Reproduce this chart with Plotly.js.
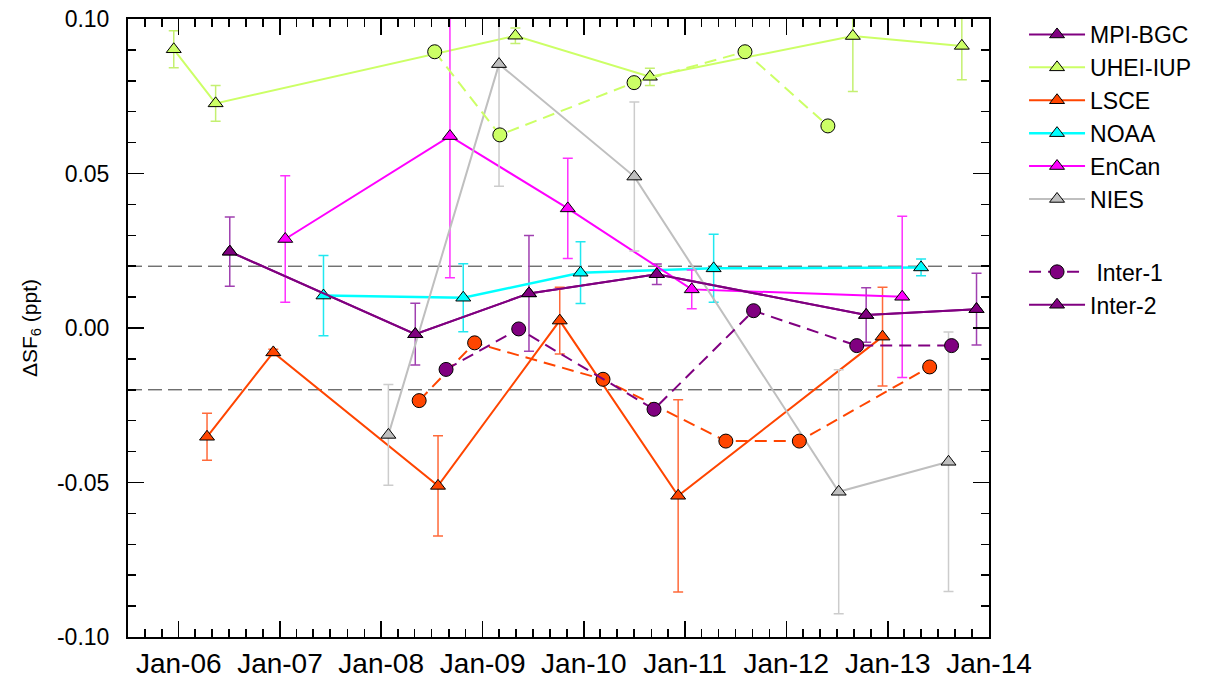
<!DOCTYPE html>
<html>
<head>
<meta charset="utf-8">
<script src="https://cdn.plot.ly/plotly-3.0.1.min.js"></script>
<style>html,body{margin:0;padding:0;background:#fff;}#chart{width:1212px;height:679px;}</style>
</head>
<body>
<div id="chart"></div>
<script>
// MPI-BGC (also Inter-2)
const mpiDates = ['2006-07-04','2008-05-03','2009-06-17','2010-09-21','2012-10-15','2013-11-17'];
const mpiVals  = [0.0247, -0.0020, 0.0112, 0.0174, 0.0042, 0.0061];
const mpiErr   = [0.0112, 0.0100, 0.0187, 0.0033, 0.0088, 0.0116];

// UHEI-IUP
const uheiDates = ['2005-12-14','2006-05-14','2009-04-29','2010-08-27','2012-08-28','2013-09-25'];
const uheiVals  = [0.0902, 0.0727, 0.0946, 0.0813, 0.0945, 0.0913];
const uheiErr   = [0.0060, 0.0058, 0.0025, 0.0028, 0.0180, 0.0110];

// UHEI-IUP Inter-1
const uheiI1Dates = ['2008-07-12','2009-03-04','2010-07-01','2011-08-05','2012-05-30'];
const uheiI1Vals  = [0.0894, 0.0625, 0.0794, 0.0894, 0.0654];

// LSCE
const lsceDates = ['2006-04-13','2006-12-08','2008-07-24','2009-10-06','2010-12-07','2012-12-13'];
const lsceVals  = [-0.0352, -0.0079, -0.0511, 0.0024, -0.0543, -0.0028];
const lsceErr   = [0.0076, 0.0010, 0.0162, 0.0108, 0.0311, 0.0160];

// LSCE Inter-1
const lsceI1Dates = ['2008-05-17','2008-12-03','2010-03-11','2011-05-28','2012-02-17','2013-06-01'];
const lsceI1Vals  = [-0.0235, -0.0048, -0.0166, -0.0366, -0.0366, -0.0126];

// MPI-BGC Inter-1
const mpiI1Dates = ['2008-08-22','2009-05-11','2010-09-11','2011-09-05','2012-09-11','2013-08-19'];
const mpiI1Vals  = [-0.0134, -0.0003, -0.0263, 0.0056, -0.0057, -0.0057];

// NOAA
const noaaDates = ['2007-06-07','2008-10-23','2009-12-20','2011-04-14','2013-05-01'];
const noaaVals  = [0.0105, 0.0098, 0.0179, 0.0193, 0.0196];
const noaaErr   = [0.0130, 0.0110, 0.0100, 0.0110, 0.0027];

// EnCan
const encanDates = ['2007-01-20','2008-09-05','2009-11-04','2011-01-25','2013-02-22'];
const encanVals  = [0.0288, 0.0621, 0.0387, 0.0125, 0.0101];
const encanErr   = [0.0205, 0.0458, 0.0162, 0.0063, 0.0261];

// NIES
const niesDates = ['2008-01-27','2009-03-01','2010-07-02','2012-07-08','2013-08-08'];
const niesVals  = [-0.0346, 0.0854, 0.0490, -0.0530, -0.0433];
const niesErr   = [0.0163, 0.0395, 0.0241, 0.0395, 0.0420];

const tickVals = ['2006-01-01','2007-01-01','2008-01-01','2009-01-01','2010-01-01','2011-01-01','2012-01-01','2013-01-01','2014-01-01'];
const tickText = ['Jan-06','Jan-07','Jan-08','Jan-09','Jan-10','Jan-11','Jan-12','Jan-13','Jan-14'];
const yTicks = [-0.10, -0.05, 0.00, 0.05, 0.10];
const yTickText = ['-0.10', '-0.05', '0.00', '0.05', '0.10'];
const limitBand = [-0.02, 0.02];

const C = {
  mpi: '#800080', mpiE: '#a040b0',
  uhei: '#ccff66', uheiE: '#c4f070',
  lsce: '#ff4500', lsceE: '#ff6a3a',
  noaa: '#00ffff', noaaE: '#20e8f0',
  encan: '#ff00ff', encanE: '#ff30ff',
  nies: '#bfbfbf', niesE: '#cccccc'
};

function tri(name, x, y, err, col, ecol, group, lw) {
  const t = {
    type: 'scatter', mode: 'lines+markers', name: name, x: x, y: y,
    legendgroup: group,
    line: {color: col, width: lw || 2},
    marker: {symbol: 'triangle-up', size: 13, color: col, line: {color: '#000', width: 1}}
  };
  if (err) t.error_y = {type: 'data', array: err, visible: true, color: ecol, thickness: 1.5, width: 5};
  return t;
}
function circ(name, x, y, col, group, show) {
  return {
    type: 'scatter', mode: 'lines+markers', name: name, x: x, y: y,
    legendgroup: group, showlegend: show,
    line: {color: col, width: 2, dash: '12px,7px'},
    marker: {symbol: 'circle', size: 14, color: col, line: {color: '#000', width: 1}}
  };
}

const traces = [
  tri('MPI-BGC', mpiDates, mpiVals, mpiErr, C.mpi, C.mpiE, 'a'),
  tri('UHEI-IUP', uheiDates, uheiVals, uheiErr, C.uhei, C.uheiE, 'a'),
  tri('LSCE', lsceDates, lsceVals, lsceErr, C.lsce, C.lsceE, 'a'),
  tri('NOAA', noaaDates, noaaVals, noaaErr, C.noaa, C.noaaE, 'a', 2.5),
  tri('EnCan', encanDates, encanVals, encanErr, C.encan, C.encanE, 'a'),
  tri('NIES', niesDates, niesVals, niesErr, C.nies, C.niesE, 'a'),
  circ('UHEI-IUP Inter-1', uheiI1Dates, uheiI1Vals, C.uhei, 'b', false),
  circ('LSCE Inter-1', lsceI1Dates, lsceI1Vals, C.lsce, 'b', false),
  circ(' Inter-1', mpiI1Dates, mpiI1Vals, C.mpi, 'b', true),
  tri('Inter-2', mpiDates, mpiVals, null, C.mpi, C.mpiE, 'b')
];

const shapes = limitBand.map(v => ({
  type: 'line', xref: 'paper', x0: 0, x1: 1, yref: 'y', y0: v, y1: v,
  line: {color: '#333', width: 1, dash: '14px,6px'}, layer: 'below'
}));

const fam = 'Liberation Sans, Arial, sans-serif';

const layout = {
  width: 1212, height: 679,
  margin: {l: 128, r: 223, t: 19, b: 42},
  paper_bgcolor: '#fff', plot_bgcolor: '#fff',
  font: {family: fam, size: 18, color: '#000'},
  showlegend: true,
  legend: {x: 1.0407, xanchor: 'left', y: 1.0097, yanchor: 'top', traceorder: 'grouped',
           tracegroupgap: 40, font: {family: fam, size: 23, color: '#000'},
           bgcolor: 'rgba(0,0,0,0)', itemwidth: 56},
  xaxis: {
    type: 'date', range: ['2005-07-02', '2014-01-01'],
    tickmode: 'array', tickvals: tickVals, ticktext: tickText,
    ticks: 'inside', ticklen: 16, tickwidth: 1.5, tickcolor: '#000',
    minor: {dtick: 'M2', tick0: '2006-01-01', ticks: 'inside', ticklen: 8, tickwidth: 1.5, tickcolor: '#000', showgrid: false},
    showline: true, linecolor: '#000', linewidth: 2, mirror: 'ticks',
    showgrid: false, zeroline: false, tickfont: {family: fam, size: 28, color: '#000'}, ticklabelstandoff: 0
  },
  yaxis: {
    range: [-0.10, 0.10], tickmode: 'array', tickvals: yTicks, ticktext: yTickText,
    ticks: 'inside', ticklen: 16, tickwidth: 1.5, tickcolor: '#000',
    minor: {dtick: 0.01, tick0: 0, ticks: 'inside', ticklen: 8, tickwidth: 1.5, tickcolor: '#000', showgrid: false},
    showline: true, linecolor: '#000', linewidth: 2, mirror: 'ticks',
    showgrid: false, zeroline: false, tickfont: {family: fam, size: 23, color: '#000'}, ticklabelstandoff: 12,
    title: {text: 'ΔSF<sub>6</sub> (ppt)', font: {family: fam, size: 21, color: '#000'}, standoff: 14}
  },
  shapes: shapes
};

Plotly.newPlot('chart', traces, layout, {displayModeBar: false, staticPlot: true});
</script>
</body>
</html>
